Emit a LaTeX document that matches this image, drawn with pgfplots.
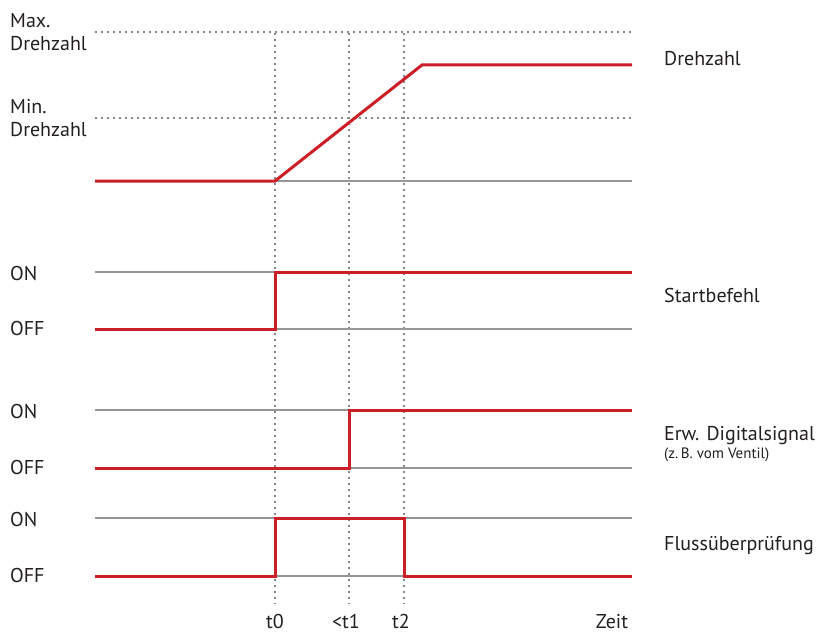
\documentclass[border=0pt]{standalone}
\usepackage{pgfplots}
\pgfplotsset{compat=1.18}
\usepackage{fontspec}
\setmainfont{PT Sans}
\definecolor{sigred}{RGB}{204,30,38}
\definecolor{lvlgray}{RGB}{150,150,150}
\definecolor{dotgray}{RGB}{135,135,135}
\definecolor{txt}{RGB}{35,31,32}
\tikzset{lbl/.style={text=txt,font=\fontsize{20bp}{23bp}\selectfont,inner sep=0pt,anchor=base west},
  sml/.style={text=txt,font=\fontsize{15bp}{17bp}\selectfont,inner sep=0pt,anchor=base west},
  bot/.style={text=txt,font=\fontsize{20bp}{23bp}\selectfont,inner sep=0pt,anchor=base}}
\begin{document}
\begin{tikzpicture}
\begin{axis}[width=819bp,height=633bp,scale only axis,
  xmin=0,xmax=819,ymin=0,ymax=633,y dir=reverse,hide axis,clip=false]
\path (rel axis cs:0,0) rectangle (rel axis cs:1,1);
% dotted reference lines
\addplot[dotgray,line width=1.8bp,dash pattern=on 1.8bp off 4.2bp] coordinates {(95,32)(632,32)};
\addplot[dotgray,line width=1.8bp,dash pattern=on 1.8bp off 4.2bp] coordinates {(95,118)(632,118)};
\addplot[dotgray,line width=1.8bp,dash pattern=on 1.8bp off 4.2bp] coordinates {(275,33)(275,604)};
\addplot[dotgray,line width=1.8bp,dash pattern=on 1.8bp off 4.2bp] coordinates {(349,33)(349,604)};
\addplot[dotgray,line width=1.8bp,dash pattern=on 1.8bp off 4.2bp] coordinates {(404,33)(404,604)};
% gray levels
\addplot[lvlgray,line width=1.8bp] coordinates {(95,181)(632,181)};
\addplot[lvlgray,line width=1.8bp] coordinates {(95,272)(632,272)};
\addplot[lvlgray,line width=1.8bp] coordinates {(95,329)(632,329)};
\addplot[lvlgray,line width=1.8bp] coordinates {(95,410)(632,410)};
\addplot[lvlgray,line width=1.8bp] coordinates {(95,468)(632,468)};
\addplot[lvlgray,line width=1.8bp] coordinates {(95,518)(632,518)};
\addplot[lvlgray,line width=1.8bp] coordinates {(95,576)(632,576)};
% signals
\addplot[sigred,line width=3bp] coordinates {(95,181)(275,181)(422,65)(632,65)};
\addplot[sigred,line width=3bp] coordinates {(95,329)(275,329)(275,272)(632,272)};
\addplot[sigred,line width=3bp] coordinates {(95,468)(349,468)(349,410)(632,410)};
\addplot[sigred,line width=3bp] coordinates {(95,576)(275,576)(275,518)(404,518)(404,576)(632,576)};
% left labels
\node[lbl] at (axis cs:10,28) {Max.};
\node[lbl] at (axis cs:10,51) {Drehzahl};
\node[lbl] at (axis cs:10,113) {Min.};
\node[lbl] at (axis cs:10,136) {Drehzahl};
\node[lbl] at (axis cs:10,280) {ON};
\node[lbl] at (axis cs:10,335) {OFF};
\node[lbl] at (axis cs:10,418) {ON};
\node[lbl] at (axis cs:10,474) {OFF};
\node[lbl] at (axis cs:10,526) {ON};
\node[lbl] at (axis cs:10,582) {OFF};
% right labels
\node[lbl] at (axis cs:664,66) {Drehzahl};
\node[lbl] at (axis cs:664,302) {Startbefehl};
\node[lbl] at (axis cs:664,440) {Erw. Digitalsignal};
\node[sml] at (axis cs:664,458) {(z.\,B. vom Ventil)};
\node[lbl] at (axis cs:664,550) {Flussüberprüfung};
% bottom labels
\node[bot] at (axis cs:275,628) {t0};
\node[bot] at (axis cs:346,628) {<t1};
\node[bot] at (axis cs:401,628) {t2};
\node[bot] at (axis cs:612,628) {Zeit};
\end{axis}
\end{tikzpicture}
\end{document}
